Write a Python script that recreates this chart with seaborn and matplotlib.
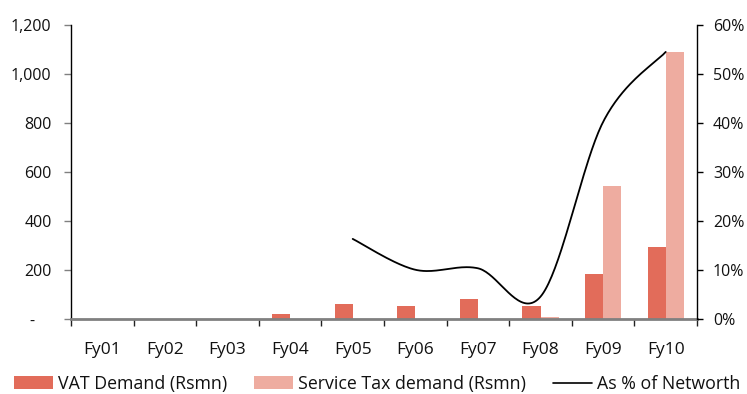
import numpy as np
import pandas as pd
import matplotlib
matplotlib.use("Agg")
import matplotlib.pyplot as plt
import seaborn as sns
from matplotlib.ticker import FuncFormatter, FixedLocator
from matplotlib.patches import Patch
from matplotlib.lines import Line2D

years = ["Fy01", "Fy02", "Fy03", "Fy04", "Fy05", "Fy06", "Fy07", "Fy08", "Fy09", "Fy10"]
vat_demand = [0, 0, 0, 18, 60, 52, 81, 52, 183, 294]
service_tax_demand = [0, 0, 0, 0, 0, 0, 0, 5, 544, 1089]
networth_years = ["Fy05", "Fy06", "Fy07", "Fy08", "Fy09", "Fy10"]
pct_of_networth = [16.3, 10.0, 10.3, 4.5, 40.2, 54.5]

vat_label = "VAT Demand (Rsmn)"
st_label = "Service Tax demand (Rsmn)"
line_label = "As % of Networth"
vat_color = "#E26C5A"
st_color = "#EEACA0"
text_color = "#111111"

sns.set_theme(style="white")
plt.rcParams["font.family"] = ["Open Sans", "DejaVu Sans"]

df = pd.DataFrame({
    "year": years * 2,
    "value": vat_demand + service_tax_demand,
    "series": [vat_label] * len(years) + [st_label] * len(years),
})

fig = plt.figure(figsize=(7.47, 3.94), dpi=100)
ax = fig.add_axes([71 / 747, 1 - 318.7 / 394, (697 - 71) / 747, (318.7 - 25) / 394])

sns.barplot(data=df, x="year", y="value", hue="series", order=years,
            palette={vat_label: vat_color, st_label: st_color},
            width=0.576, gap=0, linewidth=0, saturation=1, legend=False, ax=ax)

ax.set_xlim(-0.5, len(years) - 0.5)
ax.set_ylim(0, 1200)
ax.set_xlabel("")
ax.set_ylabel("")
ax.yaxis.set_major_locator(FixedLocator(np.arange(0, 1201, 200)))
# accounting-style labels: zero shown as a dash, set in from the right
ax.yaxis.set_major_formatter(FuncFormatter(lambda v, p: "-    " if v == 0 else f"{int(v):,}"))
ax.tick_params(axis="y", which="major", length=5, width=1, color="#808080",
               labelsize=11.5, pad=9, labelcolor=text_color, left=True)
ax.tick_params(axis="x", which="major", length=0, labelsize=12.5, pad=17, labelcolor=text_color)
ax.set_xticks(np.arange(-0.5, len(years) + 0.5, 1), minor=True)
ax.tick_params(axis="x", which="minor", length=5, width=1, color="#222222", bottom=True)
for s in ["top", "right"]:
    ax.spines[s].set_visible(False)
ax.spines["left"].set_color("#000000")
ax.spines["left"].set_linewidth(1.0)
ax.spines["bottom"].set_color("#808080")
ax.spines["bottom"].set_linewidth(2.0)
ax.spines["bottom"].set_zorder(5)

# secondary axis with the smoothed percentage line
ax2 = ax.twinx()
ax2.set_ylim(0, 60)
ax2.yaxis.set_major_locator(FixedLocator(np.arange(0, 61, 10)))
ax2.yaxis.set_major_formatter(FuncFormatter(lambda v, p: f"{int(v)}%"))
ax2.tick_params(axis="y", length=4.5, width=1, color="#000000", labelsize=11.5, pad=7,
                labelcolor=text_color, right=True)
for s in ["top", "left", "bottom"]:
    ax2.spines[s].set_visible(False)
ax2.spines["right"].set_color("#000000")
ax2.spines["right"].set_linewidth(1.0)

px = np.array([years.index(y) for y in networth_years], dtype=float)
py = np.array(pct_of_networth, dtype=float)

def smooth(x, y, n=40):
    # cubic Bezier segments with Catmull-Rom style tangents
    xs, ys = [], []
    m = len(x)
    for i in range(m - 1):
        i0 = max(i - 1, 0)
        i3 = min(i + 2, m - 1)
        c1x = x[i] + (x[i + 1] - x[i0]) / 6
        c1y = y[i] + (y[i + 1] - y[i0]) / 6
        c2x = x[i + 1] - (x[i3] - x[i]) / 6
        c2y = y[i + 1] - (y[i3] - y[i]) / 6
        t = np.linspace(0, 1, n)
        bx = (1 - t) ** 3 * x[i] + 3 * (1 - t) ** 2 * t * c1x + 3 * (1 - t) * t ** 2 * c2x + t ** 3 * x[i + 1]
        by = (1 - t) ** 3 * y[i] + 3 * (1 - t) ** 2 * t * c1y + 3 * (1 - t) * t ** 2 * c2y + t ** 3 * y[i + 1]
        xs.extend(bx)
        ys.extend(by)
    return np.array(xs), np.array(ys)

sx, sy = smooth(px, py)
sns.lineplot(x=sx, y=sy, sort=False, color="#000000", linewidth=1.3, ax=ax2)

handles = [
    Patch(facecolor=vat_color, edgecolor="none", label=vat_label),
    Patch(facecolor=st_color, edgecolor="none", label=st_label),
    Line2D([0], [0], color="#000000", linewidth=1.2, label=line_label),
]
fig.legend(handles=handles, loc="center", bbox_to_anchor=(377 / 747, 1 - 384 / 394),
           ncol=3, frameon=False, fontsize=12.8, handlelength=2.2, handleheight=0.75,
           handletextpad=0.28, columnspacing=1.5, labelcolor=text_color,
           borderaxespad=0, borderpad=0)

fig.savefig("out.png", dpi=100)
